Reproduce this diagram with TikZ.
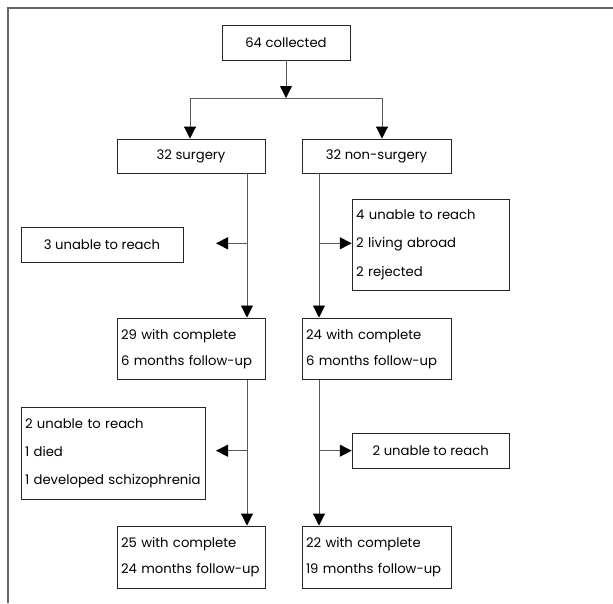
\documentclass[tikz,border=0pt]{standalone}
\usepackage{fontspec}
\setmainfont{Poppins}
\usetikzlibrary{arrows.meta}
\begin{document}
\begin{tikzpicture}[x=1pt,y=-1pt,
  box/.style={draw=black!85,line width=0.9pt,rectangle,inner sep=0pt,font=\fontsize{13.2}{26}\selectfont},
  lbox/.style={box,align=left,text width=#1},
  conn/.style={draw=black!65,line width=0.9pt},
  arr/.style={conn,-{Triangle[length=12pt,width=12pt,black]}},
  frame/.style={draw=black!60,line width=1.2pt}]
\useasboundingbox (0,0) rectangle (613,603);
\draw[frame] (8,603) -- (8,8) -- (613,8);
% main boxes
\node[box,minimum width=128pt,minimum height=35pt] (c64) at (286,42.5) {64 collected};
\node[box,minimum width=148pt,minimum height=34pt] (surg) at (191,156) {32 surgery};
\node[box,minimum width=149pt,minimum height=34pt] (non) at (376.5,156) {32 non-surgery};
\node[lbox=140pt,minimum width=148pt,minimum height=61.5pt] (s29) at (191,348.7) {29 with complete\\6 months follow-up};
\node[lbox=141pt,minimum width=149pt,minimum height=61.5pt] (n24) at (376.5,348.7) {24 with complete\\6 months follow-up};
\node[lbox=140pt,minimum width=148pt,minimum height=62pt] (s25) at (191,557) {25 with complete\\24 months follow-up};
\node[lbox=141pt,minimum width=149pt,minimum height=62pt] (n22) at (376.5,557) {22 with complete\\19 months follow-up};
% exclusion boxes
\node[box,minimum width=162pt,minimum height=35pt] (ex1) at (102,244.5) {3 unable to reach};
\node[lbox=149pt,minimum width=157pt,minimum height=91pt,font=\fontsize{13.2}{28.5}\selectfont] (ex2) at (430.7,244.7) {4 unable to reach\\2 living abroad\\2 rejected};
\node[lbox=176pt,minimum width=184pt,minimum height=92pt,font=\fontsize{13.2}{28}\selectfont] (ex3) at (113,453) {2 unable to reach\\1 died\\1 developed schizophrenia};
\node[box,minimum width=157pt,minimum height=35pt] (ex4) at (430.7,450.8) {2 unable to reach};
% junction coordinates
\coordinate (j0) at (286,98);
\coordinate (jl) at (190,98);
\coordinate (jr) at (382,98);
\coordinate (a1) at (247,243.3);
\coordinate (e1) at (216,243.3);
\coordinate (b1) at (319,243.3);
\coordinate (a2) at (247,450.7);
\coordinate (e2) at (216,450.7);
\coordinate (b2) at (319,450.7);
% connectors
\draw[arr] (c64.south) -- (j0);
\draw[conn] (jl) -- (jr);
\draw[arr] (jl) -- (jl |- surg.north);
\draw[arr] (jr) -- (jr |- non.north);
\draw[arr] (a1 |- surg.south) -- (a1 |- s29.north);
\draw[arr] (b1 |- non.south) -- (b1 |- n24.north);
\draw[arr] (a1) -- (e1);
\draw[arr] (b1) -- (b1 -| ex2.west);
\draw[arr] (a2 |- s29.south) -- (a2 |- s25.north);
\draw[arr] (b2 |- n24.south) -- (b2 |- n22.north);
\draw[arr] (a2) -- (e2);
\draw[arr] (b2) -- (b2 -| ex4.west);
\end{tikzpicture}
\end{document}
